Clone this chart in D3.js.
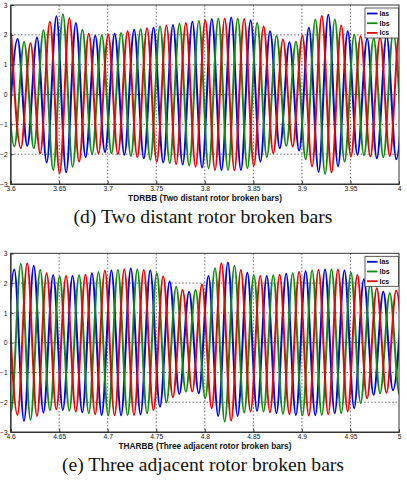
<!DOCTYPE html>
<html>
<head>
<meta charset="utf-8">
<script src="https://cdn.jsdelivr.net/npm/d3@7"></script>
<style>
  html, body { margin: 0; padding: 0; background: #fff; }
  svg { display: block; }
</style>
</head>
<body>
<svg id="chart" width="407" height="480"></svg>
<script>
// ---------------- DATA ----------------
const period = 0.02;                 // 50 Hz supply
const seriesNames = ["Ias", "Ibs", "Ics"];
const yTickValues = [-3, -2, -1, 0, 1, 2, 3];

// (d) TDRBB
const tdrbbXTicks = [3.6, 3.65, 3.7, 3.75, 3.8, 3.85, 3.9, 3.95, 4];
const tdrbbIasPeakStart = 3.6072, tdrbbIbsPeakStart = 3.5939, tdrbbIcsPeakStart = 3.6005;
const tdrbbIasTroughStart = 3.5972, tdrbbIbsTroughStart = 3.6039, tdrbbIcsTroughStart = 3.6105;
const tdrbbIasPeaks = [1.86, 1.91, 2.62, 2.40, 1.97, 2.04, 2.17, 2.24, 2.33, 2.44, 2.53, 2.58, 2.49, 2.12, 1.75, 2.24, 2.67, 2.12, 1.88, 1.98, 2.05];
const tdrbbIbsPeaks = [2.10, 1.76, 2.15, 2.69, 2.17, 1.98, 2.06, 2.19, 2.28, 2.37, 2.46, 2.55, 2.55, 2.40, 1.97, 1.77, 2.51, 2.51, 2.00, 1.88, 2.05];
const tdrbbIcsPeaks = [2.06, 1.72, 2.44, 2.56, 2.04, 2.00, 2.12, 2.22, 2.31, 2.40, 2.49, 2.55, 2.53, 2.28, 1.84, 1.97, 2.64, 2.31, 1.95, 1.92, 2.10];
const tdrbbIasTroughs = [-1.75, -1.72, -2.28, -2.61, -2.10, -1.93, -2.02, -2.14, -2.28, -2.35, -2.45, -2.53, -2.53, -2.25, -1.80, -1.88, -2.60, -2.41, -2.02, -2.14, -2.17];
const tdrbbIbsTroughs = [-1.74, -1.80, -2.53, -2.42, -2.00, -1.97, -2.06, -2.19, -2.30, -2.38, -2.48, -2.53, -2.47, -2.10, -1.72, -2.17, -2.66, -2.25, -2.04, -2.10, -2.25];
const tdrbbIcsTroughs = [-1.80, -1.97, -2.64, -2.25, -1.97, -2.00, -2.10, -2.25, -2.33, -2.42, -2.53, -2.54, -2.39, -1.97, -1.74, -2.41, -2.61, -2.08, -2.08, -2.06, -2.20];

// (e) THARBB
const tharbbXTicks = [4.6, 4.65, 4.7, 4.75, 4.8, 4.85, 4.9, 4.95, 5];
const tharbbIasPeakStart = 4.6038, tharbbIbsPeakStart = 4.5905, tharbbIcsPeakStart = 4.5971;
const tharbbIasTroughStart = 4.5938, tharbbIbsTroughStart = 4.6005, tharbbIcsTroughStart = 4.6071;
const tharbbIasPeaks = [2.46, 2.58, 2.26, 2.24, 2.33, 2.42, 2.49, 2.42, 2.05, 1.71, 2.24, 2.69, 2.35, 2.24, 2.31, 2.40, 2.46, 2.42, 2.13, 1.71, 1.95];
const tharbbIbsPeaks = [2.00, 2.64, 2.44, 2.22, 2.26, 2.36, 2.44, 2.46, 2.33, 1.88, 1.77, 2.50, 2.58, 2.27, 2.26, 2.33, 2.42, 2.46, 2.35, 1.97, 1.66, 1.85];
const tharbbIcsPeaks = [2.15, 2.67, 2.33, 2.24, 2.28, 2.41, 2.46, 2.44, 2.22, 1.77, 1.95, 2.67, 2.44, 2.24, 2.28, 2.37, 2.44, 2.46, 2.27, 1.83, 1.75];
const tharbbIasTroughs = [-2.20, -2.63, -2.35, -2.26, -2.34, -2.43, -2.44, -2.41, -2.15, -1.72, -1.70, -2.46, -2.46, -2.29, -2.37, -2.43, -2.44, -2.37, -2.20, -1.75, -1.60];
const tharbbIbsTroughs = [-2.31, -2.59, -2.26, -2.28, -2.37, -2.44, -2.43, -2.37, -2.01, -1.64, -1.87, -2.65, -2.35, -2.31, -2.39, -2.44, -2.43, -2.37, -2.03, -1.70, -1.75];
const tharbbIcsTroughs = [-2.43, -2.46, -2.24, -2.31, -2.40, -2.44, -2.43, -2.26, -1.83, -1.64, -2.20, -2.62, -2.31, -2.34, -2.40, -2.45, -2.40, -2.31, -1.87, -1.68, -1.85];

const colors = { Ias: "#0505d8", Ibs: "#138a13", Ics: "#e00808" };

// ---------------- BUILD ----------------
const panels = [
  {
    id: "d", top: 5, bottom: 184, xTicks: tdrbbXTicks,
    xLabel: "TDRBB (Two distant rotor broken bars)",
    caption: "(d) Two distant rotor broken bars",
    series: {
      Ias: [tdrbbIasPeakStart, tdrbbIasPeaks, tdrbbIasTroughStart, tdrbbIasTroughs],
      Ibs: [tdrbbIbsPeakStart, tdrbbIbsPeaks, tdrbbIbsTroughStart, tdrbbIbsTroughs],
      Ics: [tdrbbIcsPeakStart, tdrbbIcsPeaks, tdrbbIcsTroughStart, tdrbbIcsTroughs]
    }
  },
  {
    id: "e", top: 253.3, bottom: 432, xTicks: tharbbXTicks,
    xLabel: "THARBB (Three adjacent rotor broken bars)",
    caption: "(e) Three adjacent rotor broken bars",
    series: {
      Ias: [tharbbIasPeakStart, tharbbIasPeaks, tharbbIasTroughStart, tharbbIasTroughs],
      Ibs: [tharbbIbsPeakStart, tharbbIbsPeaks, tharbbIbsTroughStart, tharbbIbsTroughs],
      Ics: [tharbbIcsPeakStart, tharbbIcsPeaks, tharbbIcsTroughStart, tharbbIcsTroughs]
    }
  }
];

const svg = d3.select("#chart");
const left = 10.6, right = 399;
const sans = "'Liberation Sans', Arial, sans-serif";

panels.forEach((p, pi) => {
  const x = d3.scaleLinear().domain([p.xTicks[0], p.xTicks[p.xTicks.length - 1]]).range([left, right]);
  const y = d3.scaleLinear().domain([-3, 3]).range([p.bottom, p.top]);
  const g = svg.append("g");

  const clipId = "clip" + pi;
  svg.append("defs").append("clipPath").attr("id", clipId)
    .append("rect").attr("x", left).attr("y", p.top).attr("width", right - left).attr("height", p.bottom - p.top);

  // grid
  const grid = g.append("g").attr("stroke", "#222").attr("stroke-width", 0.8).attr("stroke-dasharray", "1.5,2").attr("opacity", 0.85);
  p.xTicks.slice(1, -1).forEach(t => {
    grid.append("line").attr("x1", x(t)).attr("x2", x(t)).attr("y1", p.top).attr("y2", p.bottom);
  });
  yTickValues.slice(1, -1).forEach(v => {
    grid.append("line").attr("x1", left).attr("x2", right).attr("y1", y(v)).attr("y2", y(v));
  });

  // curves
  const line = d3.line().x(d => x(d.t)).y(d => y(d.v)).curve(d3.curveMonotoneX);
  const lines = g.append("g").attr("clip-path", `url(#${clipId})`);
  seriesNames.forEach(name => {
    const [ps, pv, ts, tv] = p.series[name];
    const pts = pv.map((v, i) => ({ t: ps + i * period, v }))
      .concat(tv.map((v, i) => ({ t: ts + i * period, v })))
      .sort((a, b) => a.t - b.t);
    lines.append("path").datum(pts).attr("d", line)
      .attr("fill", "none").attr("stroke", colors[name]).attr("stroke-width", 2)
      .attr("stroke-linejoin", "round");
  });

  // axes (box)
  const xAxis = d3.axisBottom(x).tickValues(p.xTicks).tickSize(-3).tickPadding(2.6)
    .tickFormat(d3.format(""));
  const ax = g.append("g").attr("transform", `translate(0,${p.bottom})`).call(xAxis);
  const yAxis = d3.axisLeft(y).tickValues(yTickValues).tickSize(-3).tickPadding(5).tickFormat(d3.format(""));
  const ay = g.append("g").attr("transform", `translate(${left},0)`).call(yAxis);
  [ax, ay].forEach(a => {
    a.select(".domain").attr("stroke", "#333");
    a.selectAll(".tick line").attr("stroke", "#333");
    a.selectAll("text").attr("font-family", sans).attr("font-size", 6.7).attr("fill", "#111");
  });
  ay.selectAll("text").attr("dx", 2);
  g.append("rect").attr("x", left).attr("y", p.top).attr("width", right - left).attr("height", p.bottom - p.top)
    .attr("fill", "none").attr("stroke", "#333").attr("stroke-width", 1);

  // x label
  g.append("text").attr("x", 205).attr("y", p.bottom + 16.8).attr("text-anchor", "middle")
    .attr("font-family", sans).attr("font-weight", "bold").attr("font-size", 8.3).attr("fill", "#111")
    .text(p.xLabel);

  // caption
  g.append("text").attr("x", 203).attr("y", p.bottom + 39).attr("text-anchor", "middle")
    .attr("font-family", "'Liberation Serif', 'Times New Roman', serif").attr("font-size", 19.6).attr("fill", "#111")
    .text(p.caption);

  // legend
  const lg = g.append("g");
  const lx = 365, ly = p.top + 3;
  lg.append("rect").attr("x", lx).attr("y", ly).attr("width", right - lx - 0.5).attr("height", 30)
    .attr("fill", "#fff").attr("stroke", "#333").attr("stroke-width", 0.8);
  seriesNames.forEach((name, i) => {
    const yy = ly + 5.5 + i * 9.7;
    lg.append("line").attr("x1", lx + 2).attr("x2", lx + 12.5).attr("y1", yy).attr("y2", yy)
      .attr("stroke", colors[name]).attr("stroke-width", 1.8);
    lg.append("text").attr("x", lx + 14.5).attr("y", yy + 2.5)
      .attr("font-family", sans).attr("font-weight", "bold").attr("font-size", 7).attr("fill", "#111")
      .text(name);
  });
});
</script>
</body>
</html>
